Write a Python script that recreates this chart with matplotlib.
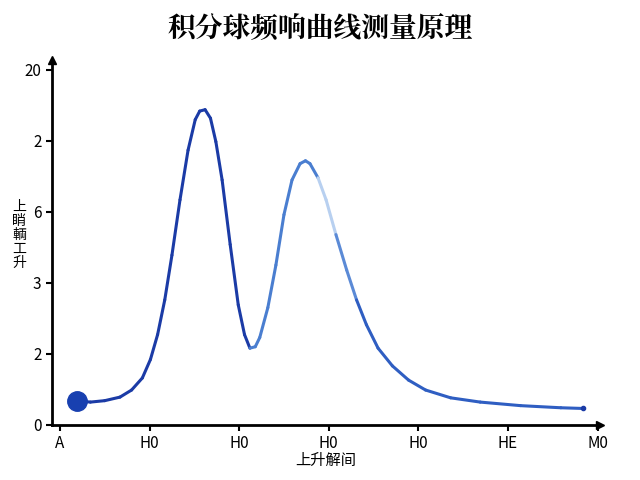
import matplotlib
matplotlib.use("Agg")
import matplotlib.pyplot as plt
import numpy as np
from matplotlib.collections import LineCollection

plt.rcParams['font.family'] = ['Noto Sans CJK SC', 'DejaVu Sans']

title = "积分球频响曲线测量原理"
xlabel = "上升解间"
ylabel = "上\n睄\n輌\n工\n升"
xtick_labels = ["A", "H0", "H0", "H0", "H0", "HE", "M0"]
ytick_labels = ["0", "2", "3", "6", "2", "20"]

curve_x = [0.19, 0.34, 0.50, 0.67, 0.80, 0.92, 1.01, 1.09, 1.17, 1.25, 1.34, 1.43, 1.51, 1.56,
           1.62, 1.68, 1.74, 1.81, 1.90, 1.99, 2.06, 2.12, 2.18, 2.23, 2.32, 2.41, 2.50, 2.59,
           2.68, 2.74, 2.79, 2.88, 2.97, 3.08, 3.20, 3.31, 3.42, 3.55, 3.71, 3.89, 4.08, 4.36,
           4.69, 5.14, 5.59, 5.84]
curve_y = [0.34, 0.32, 0.34, 0.39, 0.49, 0.66, 0.92, 1.27, 1.76, 2.39, 3.17, 3.87, 4.30, 4.42,
           4.44, 4.32, 3.99, 3.45, 2.54, 1.69, 1.27, 1.08, 1.10, 1.23, 1.65, 2.25, 2.96, 3.45,
           3.68, 3.72, 3.68, 3.48, 3.17, 2.68, 2.18, 1.76, 1.41, 1.08, 0.83, 0.63, 0.49, 0.38,
           0.32, 0.27, 0.24, 0.23]

fig = plt.figure(figsize=(6.4, 4.8), dpi=100)
ax = fig.add_axes([0.081, 0.115, 0.857, 0.76])
ax.set_xlim(-0.09, 6.03)
ax.set_ylim(0, 5.14)

x = np.array(curve_x); y = np.array(curve_y)
pts = np.column_stack([x, y]).reshape(-1, 1, 2)
segs = np.concatenate([pts[:-1], pts[1:]], axis=1)
cols = []
for xm in (x[:-1] + x[1:]) / 2:
    if xm < 2.1:
        cols.append("#1b3ba6")
    elif xm < 2.85:
        cols.append("#4a7ed0")
    elif xm < 3.1:
        cols.append("#b8d0f0")
    elif xm < 3.3:
        cols.append("#5b8ad6")
    else:
        cols.append("#2f5ec2")
ax.add_collection(LineCollection(segs, colors=cols, linewidth=2.2, capstyle='round', joinstyle='round'))
ax.plot(curve_x[0], curve_y[0], 'o', color="#1840b0", markersize=14)
ax.plot(curve_x[-1], curve_y[-1], 'o', color="#1b3ba6", markersize=3)

for s in ["top", "right"]:
    ax.spines[s].set_visible(False)
for s in ["left", "bottom"]:
    ax.spines[s].set_linewidth(2)
ax.plot(-0.09, 5.14, '^', color='black', markersize=6, clip_on=False)
ax.plot(6.03, 0, '>', color='black', markersize=6, clip_on=False)

ax.set_xticks(range(len(xtick_labels)))
ax.set_xticklabels(xtick_labels, fontsize=11)
ax.set_yticks(range(len(ytick_labels)))
ax.set_yticklabels(ytick_labels, fontsize=11)
ax.tick_params(length=4, width=1.5)
ax.set_xlabel(xlabel, fontsize=11, labelpad=0)
fig.text(0.03, 0.51, ylabel, fontsize=10, ha='center', va='center', linespacing=1.0)
fig.suptitle(title, fontsize=20, fontweight='bold', y=0.97, family=['Noto Serif CJK SC', 'Noto Sans CJK SC'])
fig.savefig("out.png", dpi=100)
